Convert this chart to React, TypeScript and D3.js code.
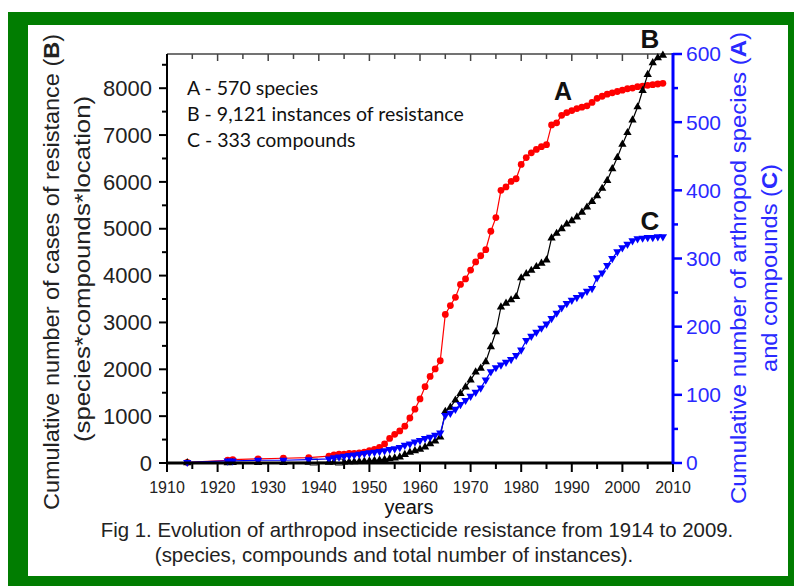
import * as d3 from "d3";

const W = 794;
const H = 586;
const PLOT = { left: 167, right: 673, top: 54, bottom: 463 };

// years shared by the three series
const years = [
  1914, 1922, 1923, 1928, 1933, 1938, 1942, 1943,
  1944, 1945, 1946, 1947, 1948, 1949,
  1950, 1951, 1952, 1953, 1954, 1955, 1956, 1957, 1958, 1959,
  1960, 1961, 1962, 1963, 1964, 1965, 1966, 1967, 1968, 1969,
  1970, 1971, 1972, 1973, 1974, 1975, 1976, 1977, 1978, 1979,
  1980, 1981, 1982, 1983, 1984, 1985, 1986, 1987, 1988, 1989,
  1990, 1991, 1992, 1993, 1994, 1995, 1996, 1997, 1998, 1999,
  2000, 2001, 2002, 2003, 2004, 2005, 2006, 2007, 2008,
];

// A - species (right axis)
const species = [
  1, 4, 5, 6, 7, 8, 10, 12,
  13, 13, 14, 14, 15, 16,
  18, 20, 23, 28, 36, 42, 47, 54, 66, 79,
  94, 112, 127, 138, 150, 218, 231, 243, 262, 270,
  283, 295, 304, 313, 340, 360, 400, 405, 413, 417,
  438, 448, 455, 460, 464, 467, 496, 499, 510, 514,
  517, 520, 522, 524, 529, 535, 538, 541, 543, 545,
  547, 549, 550, 552, 553, 554, 555, 556, 557,
];

// B - instances of resistance (left axis)
const instances = [
  2, 5, 6, 8, 10, 12, 15, 17,
  19, 21, 23, 26, 30, 35,
  42, 50, 60, 72, 88, 105, 128, 180, 230, 262,
  290, 340, 410, 470, 555, 1100, 1190, 1340, 1480, 1620,
  1770, 1940, 2020, 2160, 2480, 2800, 3330, 3410, 3480, 3550,
  3950, 4040, 4110, 4190, 4260, 4330, 4800, 4900, 5000, 5100,
  5170, 5250, 5350, 5460, 5580, 5700, 5860, 6030, 6280, 6520,
  6800, 7050, 7320, 7600, 7950, 8290, 8540, 8650, 8700,
];

// C - compounds (right axis)
const compounds = [
  1, 3, 3, 4, 4, 5, 6, 8,
  9, 10, 11, 12, 13, 14,
  15, 16, 17, 18, 20, 21, 23, 26, 28, 31,
  33, 36, 38, 41, 44, 70, 73, 79, 86, 92,
  98, 104, 110, 122, 134, 140, 144, 148, 152, 158,
  166, 180, 186, 192, 198, 204, 212, 220, 228, 234,
  239, 243, 247, 252, 256, 272, 279, 290, 300, 310,
  316, 321, 326, 329, 330, 331, 331, 332, 332,
];

// stray open squares on the baseline
const squareYears = [1939, 1944];
const squareValues = [20, 20];

const xTicks = [1910, 1920, 1930, 1940, 1950, 1960, 1970, 1980, 1990, 2000, 2010];
const leftTicks = [0, 1000, 2000, 3000, 4000, 5000, 6000, 7000, 8000];
const rightTicks = [0, 100, 200, 300, 400, 500, 600];

const notes = ["A - 570 species", "B - 9,121 instances of resistance", "C - 333 compounds"];

const RED = "#ff0000";
const BLUE = "#0000ff";
const SANS = "'Liberation Sans', Arial, sans-serif";

export default function App() {
  const x = d3.scaleLinear().domain([1910, 2010]).range([PLOT.left, PLOT.right]);
  const yL = d3.scaleLinear().domain([0, 8730]).range([PLOT.bottom, PLOT.top]);
  const yR = d3.scaleLinear().domain([0, 600]).range([PLOT.bottom, PLOT.top]);

  const lineL = d3
    .line<number>()
    .x((_, i) => x(years[i]))
    .y((d) => yL(d));
  const lineR = d3
    .line<number>()
    .x((_, i) => x(years[i]))
    .y((d) => yR(d));

  const tri = d3.symbol(d3.symbolTriangle, 30)() as string;

  const minorX = d3.range(1915, 2010, 10);
  const minorL = d3.range(500, 8731, 1000);
  const minorR = d3.range(50, 600, 100);
  const topTicks = d3.range(1910, 2011, 5);

  return (
    <svg
      width={W}
      height={H}
      style={{ position: "absolute", left: 0, top: 0, background: "#fff" }}
      fontFamily={SANS}
    >
      <rect x={8} y={12} width={W - 8} height={H - 12} fill="#017d01" />
      <rect x={28} y={25} width={760} height={551} fill="#fff" />

      {/* top frame */}
      <line x1={PLOT.left} x2={PLOT.right} y1={PLOT.top} y2={PLOT.top} stroke="#444" strokeWidth={1.5} />
      {topTicks.map((t) => (
        <line
          key={"tt" + t}
          x1={x(t)}
          x2={x(t)}
          y1={PLOT.top}
          y2={PLOT.top + (t % 10 === 0 ? 7 : 5)}
          stroke="#444"
          strokeWidth={1.5}
        />
      ))}

      {/* series A */}
      <path d={lineR(species) ?? ""} fill="none" stroke={RED} strokeWidth={1.2} />
      {species.map((v, i) => (
        <circle key={"a" + i} cx={x(years[i])} cy={yR(v)} r={3.4} fill={RED} />
      ))}

      {/* series B */}
      <path d={lineL(instances) ?? ""} fill="none" stroke="#000" strokeWidth={1.2} />
      {instances.map((v, i) => (
        <path key={"b" + i} d={tri} transform={`translate(${x(years[i])},${yL(v)})`} fill="#000" />
      ))}
      {squareYears.map((yr, i) => (
        <rect
          key={"s" + i}
          x={x(yr) - 3.5}
          y={yL(squareValues[i]) - 3}
          width={7}
          height={6}
          fill="#fff"
          stroke="#333"
          strokeWidth={1}
        />
      ))}

      {/* series C */}
      <path d={lineR(compounds) ?? ""} fill="none" stroke={BLUE} strokeWidth={1.2} />
      {compounds.map((v, i) => (
        <path
          key={"c" + i}
          d={tri}
          transform={`translate(${x(years[i])},${yR(v)}) rotate(180)`}
          fill={BLUE}
        />
      ))}

      {/* bottom axis */}
      <line x1={PLOT.left - 1} x2={PLOT.right} y1={PLOT.bottom} y2={PLOT.bottom} stroke="#000" strokeWidth={3} />
      {xTicks.map((t) => (
        <g key={"x" + t}>
          <line x1={x(t)} x2={x(t)} y1={PLOT.bottom} y2={PLOT.bottom + 9} stroke="#000" strokeWidth={2} />
          <text x={x(t)} y={PLOT.bottom + 30} textAnchor="middle" fontSize={16} fill="#222">
            {t}
          </text>
        </g>
      ))}
      {minorX.map((t) => (
        <line key={"mx" + t} x1={x(t)} x2={x(t)} y1={PLOT.bottom} y2={PLOT.bottom + 6} stroke="#000" strokeWidth={2} />
      ))}
      <text x={409} y={514} textAnchor="middle" fontSize={20} fill="#111">
        years
      </text>

      {/* left axis */}
      <line x1={PLOT.left} x2={PLOT.left} y1={PLOT.top} y2={PLOT.bottom} stroke="#000" strokeWidth={2} />
      {leftTicks.map((t) => (
        <g key={"l" + t}>
          <line x1={PLOT.left - 8} x2={PLOT.left} y1={yL(t)} y2={yL(t)} stroke="#000" strokeWidth={2} />
          <text x={PLOT.left - 15} y={yL(t)} dy="0.35em" textAnchor="end" fontSize={22} fill="#222">
            {t}
          </text>
        </g>
      ))}
      {minorL.map((t) => (
        <line key={"ml" + t} x1={PLOT.left - 5} x2={PLOT.left} y1={yL(t)} y2={yL(t)} stroke="#000" strokeWidth={2} />
      ))}

      {/* right axis */}
      <line x1={PLOT.right} x2={PLOT.right} y1={PLOT.top - 1} y2={PLOT.bottom + 1} stroke={BLUE} strokeWidth={3} />
      {rightTicks.map((t) => (
        <g key={"r" + t}>
          <line x1={PLOT.right} x2={PLOT.right + 9} y1={yR(t)} y2={yR(t)} stroke={BLUE} strokeWidth={2.5} />
          <text x={PLOT.right + 13} y={yR(t)} dy="0.35em" textAnchor="start" fontSize={21} fill="#2a2aff">
            {t}
          </text>
        </g>
      ))}
      {minorR.map((t) => (
        <line key={"mr" + t} x1={PLOT.right} x2={PLOT.right + 5} y1={yR(t)} y2={yR(t)} stroke={BLUE} strokeWidth={2.5} />
      ))}

      {/* axis titles */}
      <text
        transform="translate(59,272) rotate(-90)"
        textAnchor="middle"
        fontSize={22}
        textLength={476}
        lengthAdjust="spacingAndGlyphs"
        fill="#222"
      >
        Cumulative number of cases of resistance (<tspan fontWeight="bold">B</tspan>)
      </text>
      <text
        transform="translate(90,269) rotate(-90)"
        textAnchor="middle"
        fontSize={22}
        textLength={346}
        lengthAdjust="spacingAndGlyphs"
        fill="#222"
      >
        (species*compounds*location)
      </text>
      <text
        transform="translate(746,268) rotate(-90)"
        textAnchor="middle"
        fontSize={22}
        textLength={472}
        lengthAdjust="spacingAndGlyphs"
        fill="#2a2aff"
      >
        Cumulative number of arthropod species (<tspan fontWeight="bold">A</tspan>)
      </text>
      <text
        transform="translate(777,268) rotate(-90)"
        textAnchor="middle"
        fontSize={22}
        textLength={208}
        lengthAdjust="spacingAndGlyphs"
        fill="#2a2aff"
      >
        and compounds (<tspan fontWeight="bold">C</tspan>)
      </text>

      {/* notes */}
      {notes.map((n, i) => (
        <text key={n} x={187} y={95 + i * 26} fontSize={19.5} fontFamily="Lato, 'Open Sans', sans-serif" fill="#111">
          {n}
        </text>
      ))}
      <text x={563} y={100} textAnchor="middle" fontSize={25} fontWeight="bold" fill="#111">
        A
      </text>
      <text x={650} y={48} textAnchor="middle" fontSize={26} fontWeight="bold" fill="#111">
        B
      </text>
      <text x={650} y={230} textAnchor="middle" fontSize={26} fontWeight="bold" fill="#111">
        C
      </text>

      {/* caption */}
      <text x={417} y={537} textAnchor="middle" fontSize={20.4} fill="#222">
        Fig 1. Evolution of arthropod insecticide resistance from 1914 to 2009.
      </text>
      <text x={394} y={562} textAnchor="middle" fontSize={20.4} fill="#222">
        (species, compounds and total number of instances).
      </text>
    </svg>
  );
}
